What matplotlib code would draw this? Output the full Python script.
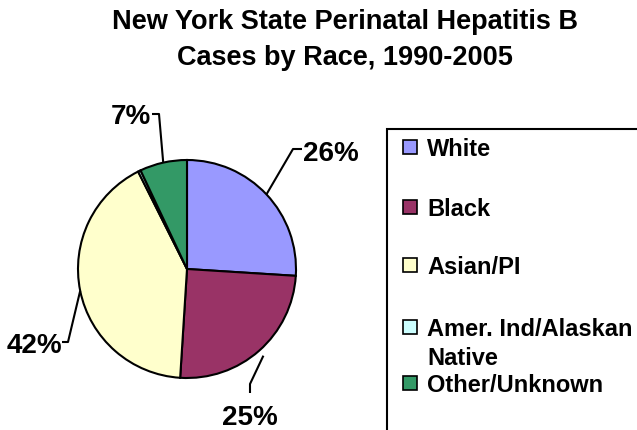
import numpy as np
import matplotlib
matplotlib.use("Agg")
import matplotlib.pyplot as plt
from matplotlib.patches import Rectangle

# ---- data ----
categories = ["White", "Black", "Asian/PI", "Amer. Ind/Alaskan\nNative", "Other/Unknown"]
values = [26.0, 25.0, 41.6, 0.4, 7.0]
colors = ["#9999FF", "#993366", "#FFFFCC", "#CCFFFF", "#339966"]
title_lines = ["New York State Perinatal Hepatitis B", "Cases by Race, 1990-2005"]

# ---- layout (pixels, y from top) ----
W, H = 637, 431
CX, CY, R = 187, 270, 109
FONT = "Liberation Sans"

fig = plt.figure(figsize=(W / 100, H / 100), dpi=100)
fig.patch.set_facecolor("white")

def fp(x, y):
    return (x / W, 1 - y / H)

# axes covering whole figure, 1 data unit = R pixels, centre at (CX, CY)
ax = fig.add_axes([0, 0, 1, 1])
wedges, _ = ax.pie(values, colors=colors, startangle=90, counterclock=False,
                   radius=1.0, wedgeprops=dict(edgecolor="black", linewidth=1.5))
ax.set_xlim(-CX / R, (W - CX) / R)
ax.set_ylim(-(H - CY) / R, CY / R)
ax.set_aspect("equal")
ax.axis("off")

def d(x, y):
    return ((x - CX) / R, (CY - y) / R)

# label layout: (start radius, elbow px, end px, text px, ha)
label_layout = {
    0: (1.0, (293, 150), (302, 150), (303, 161), "left"),
    1: (1.06, (250, 385), (250, 394), (250, 425), "center"),
    2: (1.0, (68, 343), (62, 343), (62, 353), "right"),
    4: (1.0, (159, 115), (152, 115), (151, 124), "right"),
}
for i, (r0, elbow, end, tpos, ha) in label_layout.items():
    w = wedges[i]
    mid = np.deg2rad((w.theta1 + w.theta2) / 2)
    sx, sy = r0 * np.cos(mid), r0 * np.sin(mid)
    ex, ey = d(*elbow)
    nx, ny = d(*end)
    ax.plot([sx, ex, nx], [sy, ey, ny], color="black", lw=1.5,
            solid_capstyle="butt", clip_on=False)
    tx, ty = d(*tpos)
    ax.text(tx, ty, f"{round(values[i])}%", ha=ha, va="baseline",
            fontsize=20, fontweight="bold", family=FONT)

# title
title_base = [29, 65]
for line, yb in zip(title_lines, title_base):
    fig.text(*fp(345, yb), line, ha="center", va="baseline",
             fontsize=19.5, fontweight="bold", family=FONT)

# legend box (extends beyond the figure edges)
fig.patches.append(Rectangle(fp(387, 440), (W + 10 - 387) / W, (440 - 130) / H,
                             transform=fig.transFigure, facecolor="none",
                             edgecolor="black", linewidth=1.5))
legend_base = [156, 216, 274, 336, 392]
line_gap = 29
for lab, col, yb in zip(categories, colors, legend_base):
    fig.patches.append(Rectangle(fp(403, yb - 1), 14 / W, 14 / H,
                                 transform=fig.transFigure, facecolor=col,
                                 edgecolor="black", linewidth=1.2))
    for k, part in enumerate(lab.split("\n")):
        fig.text(*fp(427, yb + k * line_gap), part, ha="left", va="baseline",
                 fontsize=17, fontweight="bold", family=FONT)

fig.savefig("out.png", dpi=100, facecolor="white")
